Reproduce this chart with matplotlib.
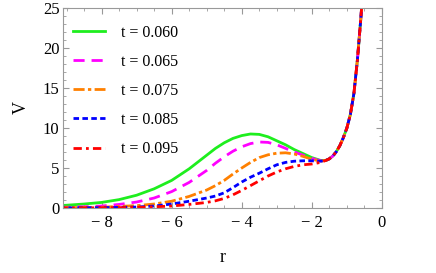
import numpy as np
import matplotlib
matplotlib.use("Agg")
import matplotlib.pyplot as plt
from matplotlib.ticker import MultipleLocator, FixedLocator

plt.rcParams.update({
    "font.family": "Liberation Serif",
    "font.size": 12,
    "axes.edgecolor": "#999999",
    "axes.linewidth": 0.8,
    "xtick.color": "#999999",
    "ytick.color": "#999999",
    "xtick.labelcolor": "black",
    "ytick.labelcolor": "black",
})

# potential V(r), left part (before the curves merge)
r_left = [-9.2, -9.0, -8.5, -8.0, -7.5, -7.0, -6.5, -6.0, -5.5, -5.0, -4.75, -4.5,
          -4.25, -4.0, -3.75, -3.5, -3.25, -3.0, -2.75, -2.5, -2.25, -2.0, -1.75]
v_060 = [0.3, 0.35, 0.5, 0.7, 1.05, 1.6, 2.4, 3.45, 4.9, 6.6, 7.45, 8.15,
         8.7, 9.05, 9.25, 9.2, 8.9, 8.4, 7.9, 7.3, 6.8, 6.3, 5.95]
v_065 = [0.08, 0.1, 0.15, 0.25, 0.45, 0.75, 1.25, 2.05, 3.2, 4.7, 5.6, 6.4,
         7.1, 7.65, 8.05, 8.25, 8.2, 7.9, 7.45, 7.0, 6.6, 6.2, 5.9]
v_075 = [0.04, 0.05, 0.07, 0.1, 0.2, 0.3, 0.5, 0.85, 1.45, 2.25, 2.8, 3.45,
         4.25, 5.0, 5.7, 6.3, 6.65, 6.85, 6.9, 6.75, 6.45, 6.1, 5.85]
v_085 = [0.02, 0.02, 0.03, 0.05, 0.08, 0.12, 0.25, 0.5, 0.85, 1.25, 1.5, 1.9,
         2.55, 3.25, 3.85, 4.35, 4.9, 5.4, 5.7, 5.85, 5.9, 5.9, 5.85]
v_095 = [0.01, 0.01, 0.02, 0.03, 0.05, 0.08, 0.15, 0.25, 0.45, 0.7, 0.9, 1.2,
         1.65, 2.2, 2.8, 3.4, 4.0, 4.5, 4.9, 5.2, 5.4, 5.5, 5.7]

# common steep right-hand branch
r_tail = [-1.6, -1.5, -1.4, -1.3, -1.2, -1.1, -1.0, -0.9, -0.8, -0.7, -0.6, -0.55]
v_tail = [5.95, 6.15, 6.5, 7.05, 7.8, 8.8, 10.0, 11.7, 14.3, 18.5, 23.8, 27.0]

labels = ["t = 0.060", "t = 0.065", "t = 0.075", "t = 0.085", "t = 0.095"]
colors = ["#1EEE1E", "#FF00FF", "#FF8000", "#0000FF", "#FF0000"]
styles = ["-", (0, (4, 2.5)), (0, (4, 1.2, 1.2, 1.2)), (0, (2, 1.2)),
          (0, (3, 1.5, 1, 1.5))]

fig = plt.figure(figsize=(4.36, 2.73), dpi=100)
ax = fig.add_axes([0.1445, 0.238, 0.7315, 0.733])

for v, lab, c, ls in zip([v_060, v_065, v_075, v_085, v_095], labels, colors, styles):
    r = np.concatenate([r_left, r_tail])
    y = np.concatenate([v, v_tail])
    ax.plot(r, y, color=c, ls=ls, lw=2.0, label=lab)

ax.set_xlim(-9.1, 0)
ax.set_ylim(0, 25)
ax.xaxis.set_major_locator(FixedLocator([-8, -6, -4, -2, 0]))
ax.set_xticklabels(["\u2212 8", "\u2212 6", "\u2212 4", "\u2212 2", "0"])
ax.xaxis.set_minor_locator(MultipleLocator(0.5))
ax.yaxis.set_major_locator(MultipleLocator(5))
ax.yaxis.set_minor_locator(MultipleLocator(1))
ax.tick_params(which="both", direction="in", top=True, right=True)
ax.tick_params(which="major", length=4)
ax.tick_params(which="minor", length=2)
ax.tick_params(axis="x", which="major", pad=5)
ax.tick_params(axis="y", which="major", pad=2.5)

ax.set_xlabel("r", fontsize=13, labelpad=13)
ax.set_ylabel("V", fontsize=13, labelpad=9)

ax.legend(loc="upper left", frameon=False, handlelength=2.0, handletextpad=1.0,
          labelspacing=0.82, fontsize=11.5, borderaxespad=0.0,
          bbox_to_anchor=(0.012, 0.948))

fig.savefig("out.png", dpi=100)
